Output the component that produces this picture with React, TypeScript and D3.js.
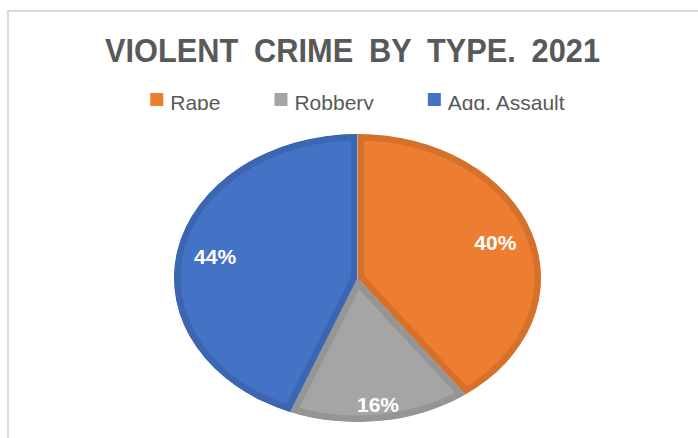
import React, { useMemo } from "react";
import * as d3 from "d3";

const categories = ["Rape", "Robbery", "Agg. Assault"];
const values = [40, 16, 44];
const valueLabels = ["40%", "16%", "44%"];
const title = "VIOLENT CRIME BY TYPE. 2021";

const fillColors = ["#ED7D31", "#A5A5A5", "#4472C4"];
const edgeColors = ["#D6712B", "#959595", "#3C66B2"];

const W = 698;
const H = 438;
const FONT = '"Liberation Sans Narrow", "Liberation Sans", Arial, sans-serif';

export default function App() {
  const cx = 357.5;
  const cy = 278;
  const rx = 183.5;
  const ry = 144;

  const arcs = useMemo(
    () => d3.pie<number>().sort(null).value((d) => d)(values),
    []
  );
  const arcGen = d3.arc<d3.PieArcDatum<number>>().innerRadius(0).outerRadius(rx);

  const legendFont = 21;
  const widths = useMemo(() => {
    const c = document.createElement("canvas").getContext("2d")!;
    c.font = `${legendFont}px ${FONT}`;
    return categories.map((t) => c.measureText(t).width);
  }, []);
  const sq = 13;
  const gapSqText = 7;
  const gapItem = 54;
  const total =
    widths.reduce((a, b) => a + b, 0) +
    categories.length * (sq + gapSqText) +
    (categories.length - 1) * gapItem;
  let lx = 358 - total / 2;
  const legendItems = categories.map((c, i) => {
    const x = lx;
    lx += sq + gapSqText + widths[i] + gapItem;
    return { c, x, i };
  });

  const total100 = d3.sum(values);

  return (
    <svg
      width={W}
      height={H}
      style={{ position: "absolute", left: 0, top: 0, background: "#fff" }}
    >
      <defs>
        <clipPath id="legendClip">
          <rect x={0} y={0} width={W} height={110} />
        </clipPath>
        {arcs.map((a, i) => (
          <clipPath id={`slice${i}`} key={i}>
            <path d={arcGen(a) || ""} />
          </clipPath>
        ))}
      </defs>
      <rect x={0} y={0} width={W} height={H} fill="#fff" />
      <rect
        x={8}
        y={11}
        width={900}
        height={900}
        fill="none"
        stroke="#D9D9D9"
        strokeWidth={2}
      />
      <text
        x={352.5}
        y={62}
        textAnchor="middle"
        fontFamily={FONT}
        fontWeight="bold"
        fontSize={34}
        fill="#595959"
        textLength={495}
        lengthAdjust="spacingAndGlyphs"
        wordSpacing={8}
      >
        {title}
      </text>
      <g clipPath="url(#legendClip)">
        {legendItems.map(({ c, x, i }) => (
          <g key={c}>
            <rect x={x} y={93} width={sq} height={sq} fill={fillColors[i]} />
            <text
              x={x + sq + gapSqText}
              y={110}
              fontFamily={FONT}
              fontSize={legendFont}
              fill="#595959"
            >
              {c}
            </text>
          </g>
        ))}
      </g>
      <g transform={`translate(${cx},${cy}) scale(1,${ry / rx})`}>
        {arcs.map((a, i) => (
          <path
            key={i}
            d={arcGen(a) || ""}
            fill={fillColors[i]}
            stroke={edgeColors[i]}
            strokeWidth={13}
            vectorEffect="non-scaling-stroke"
            clipPath={`url(#slice${i})`}
          />
        ))}
      </g>
      {arcs.map((a, i) => {
        const share = a.value / total100;
        const lr = rx * (share < 0.2 ? 0.89 : 0.79);
        const mid = (a.startAngle + a.endAngle) / 2;
        const x = cx + Math.sin(mid) * lr;
        const y = cy - Math.cos(mid) * lr * (ry / rx);
        return (
          <text
            key={i}
            x={x}
            y={y + 7}
            textAnchor="middle"
            fontFamily={FONT}
            fontWeight="bold"
            fontSize={21}
            fill="#ffffff"
          >
            {valueLabels[i]}
          </text>
        );
      })}
    </svg>
  );
}
